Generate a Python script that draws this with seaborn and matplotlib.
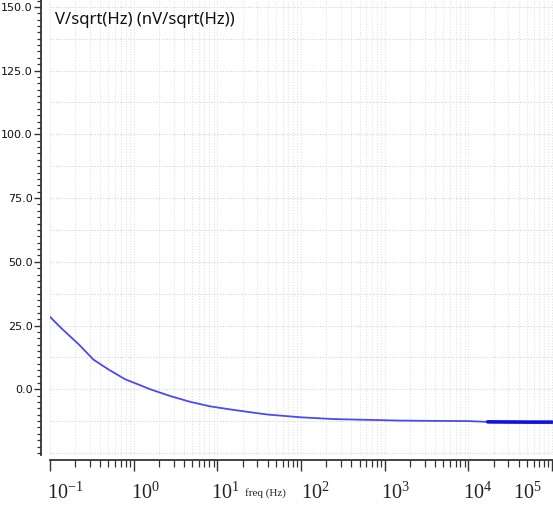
import numpy as np
import pandas as pd
import matplotlib
matplotlib.use("Agg")
import matplotlib.pyplot as plt
import matplotlib.ticker as mticker
import matplotlib.transforms as mtransforms
import seaborn as sns

# ---- data ----
freq_hz = [0.1, 0.138, 0.219, 0.331, 0.50, 0.79, 1.0, 1.57, 2.69, 4.68, 8.13, 14.1,
           24.5, 39, 98, 243, 600, 1510, 3160, 10000, 17000, 100000]
noise_nv = [28.4, 23.8, 17.7, 11.6, 7.75, 3.9, 2.6, 0.0, -2.6, -4.9, -6.7, -7.9,
            -9.0, -9.9, -11.0, -11.7, -12.0, -12.3, -12.4, -12.5, -12.8, -12.9]
hf_freq_hz = [17000, 30000, 60000, 100000]
hf_noise_nv = [-12.8, -12.85, -12.9, -12.9]
x_tick_values = [0.1, 1, 10, 100, 1000, 10000, 100000]
y_tick_values = [0, 25, 50, 75, 100, 125, 150]
title_text = "V/sqrt(Hz) (nV/sqrt(Hz))"
x_label_text = "freq (Hz)"

df = pd.DataFrame({"freq": freq_hz, "noise": noise_nv})
df_hf = pd.DataFrame({"freq": hf_freq_hz, "noise": hf_noise_nv})

sns.set_style("white")
plt.rcParams["font.family"] = ["DejaVu Sans"]

fig = plt.figure(figsize=(5.53, 5.05), dpi=100)
ax = fig.add_axes([50 / 553, 50 / 505, 503 / 553, 455 / 505])

sns.lineplot(data=df, x="freq", y="noise", ax=ax, color="#4a4af2", linewidth=1.3)
sns.lineplot(data=df_hf, x="freq", y="noise", ax=ax, color="#1010e0", linewidth=2.6)

ax.set_xscale("log")
ax.set_xlim(0.1, 10 ** 5.01)
ax.set_ylim(-25.8, 152.7)

# grid
for yv in np.arange(-25, 151, 12.5):
    ax.axhline(yv, color="#d4d4d4", lw=0.8, ls=(0, (1, 1.5)), zorder=0)
ax.xaxis.set_minor_locator(mticker.LogLocator(base=10, subs=np.arange(2, 10), numticks=20))
ax.grid(True, which="both", axis="x", color="#e2e2e2", lw=0.8, ls=(0, (1, 1.5)))
ax.grid(False, axis="y")

# spines
sns.despine(ax=ax, top=True, right=True, offset={"left": 6.5, "bottom": 3.6})
for s in ("left", "bottom"):
    ax.spines[s].set_color("#333333")
    ax.spines[s].set_linewidth(1.3)

# y ticks
ax.set_yticks(y_tick_values)
ax.set_yticklabels([f"{v:.1f}" for v in y_tick_values])
ax.yaxis.set_minor_locator(mticker.MultipleLocator(2.5))
ax.tick_params(axis="y", which="major", length=5, width=1, color="#333333", pad=1,
               labelsize=8, labelcolor="#111111", left=True)
ax.tick_params(axis="y", which="minor", length=3, width=0.9, color="#333333", left=True)
for lab in ax.get_yticklabels():
    lab.set_family(["Liberation Sans Narrow", "DejaVu Sans"])

# x ticks
ax.set_xticks(x_tick_values)
ax.xaxis.set_major_formatter(mticker.LogFormatterSciNotation())
ax.tick_params(axis="x", which="major", length=8, width=1, color="#333333", pad=8,
               labelsize=14.5, labelcolor="#222222", bottom=True)
ax.tick_params(axis="x", which="minor", length=5, width=0.9, color="#333333", bottom=True)
label_shift_px = [15, 12, 8, 14, 11, 9, -25]
fig.canvas.draw()
for lab, dx in zip(ax.get_xticklabels(), label_shift_px):
    lab.set_family(["Liberation Serif", "DejaVu Serif"])
    lab.set_transform(lab.get_transform() + mtransforms.Affine2D().translate(dx, 0))

# x label
ax.set_xlabel(x_label_text, fontsize=8, family=["Liberation Serif", "DejaVu Serif"], color="#222222")
ax.xaxis.set_label_coords((265 - 50) / 503, (455 - 493) / 455)
ax.xaxis.label.set_va("center")
ax.set_ylabel("")

# title inside plot
ax.text((55 - 50) / 503, (455 - 20) / 455, title_text, transform=ax.transAxes,
        fontsize=12, family=["Noto Sans", "DejaVu Sans"], color="#111111", va="center", ha="left")

fig.savefig("out.png", dpi=100)
